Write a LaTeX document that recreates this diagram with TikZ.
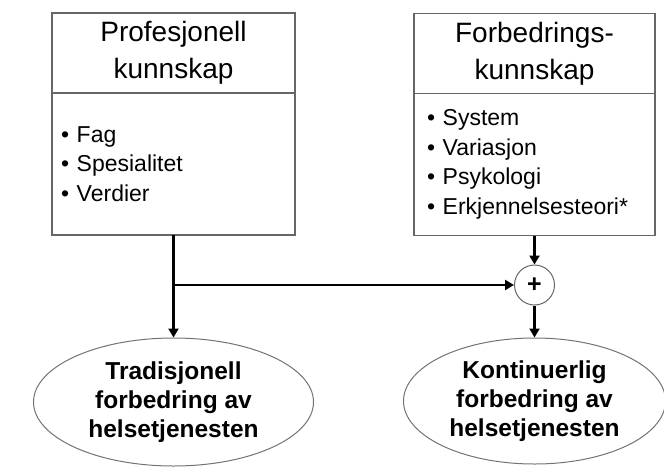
\documentclass[tikz,border=0pt]{standalone}
\usepackage{fontspec}
\setmainfont{Liberation Sans}
\usetikzlibrary{positioning,arrows.meta,shapes.geometric}
\begin{document}
\begin{tikzpicture}[
        x=1pt, y=-1pt,
        head/.style={rectangle, draw=black!60, line width=1.6pt, outer sep=0pt, inner sep=0pt, minimum width=243pt, minimum height=80pt, align=center, font=\fontsize{28}{37}\selectfont},
        list/.style={rectangle, draw=black!60, line width=1.6pt, outer sep=0pt, inner sep=0pt, minimum width=243pt, minimum height=142pt, text width=225pt, align=left, font=\fontsize{23}{29.5}\selectfont},
        goal/.style={ellipse, draw=black!55, line width=1pt, inner sep=0pt, minimum width=280pt, minimum height=128pt, align=center, font=\bfseries\fontsize{24.5}{29}\selectfont},
        sum/.style={circle, draw=black!60, line width=1pt, inner sep=0pt, minimum size=40pt, font=\bfseries\fontsize{25}{25}\selectfont},
        arrow/.style={-{Triangle[length=9pt,width=10pt]}, line width=2.6pt}
    ]
        \useasboundingbox (0,0) rectangle (664,469);

        \node[head] (profhead) at (173.5,53) {Profesjonell\\kunnskap};
        \node[list, below=0pt of profhead] (proflist) {• Fag\\• Spesialitet\\• Verdier};
        \node[head, minimum width=241pt] (forbhead) at (534.5,53.5) {Forbedrings-\\kunnskap};
        \node[list, below=0pt of forbhead, minimum width=241pt, text width=215pt] (forblist) {• System\\• Variasjon\\• Psykologi\\• Erkjennelsesteori*};

        \node[sum] (plus) at (534.5,285) {+};
        \node[goal] (tradgoal) at (173.5,402) {Tradisjonell\\forbedring av\\helsetjenesten};
        \node[goal, minimum width=262pt, minimum height=126pt] (kontgoal) at (534.5,401) {Kontinuerlig\\forbedring av\\helsetjenesten};

        \coordinate (split) at (proflist.south |- plus);
        \draw[arrow] (proflist) -- (tradgoal);
        \draw[arrow] (split) -- (plus);
        \draw[arrow] (forblist) -- (plus);
        \draw[arrow] (plus) -- (kontgoal);
    \end{tikzpicture}
\end{document}
